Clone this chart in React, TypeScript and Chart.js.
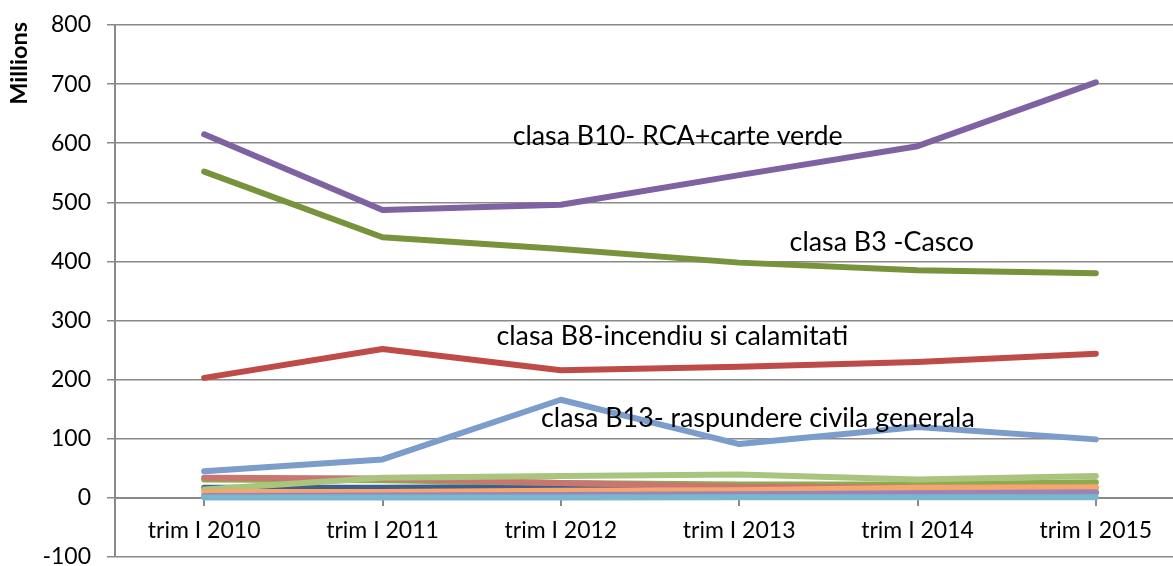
import React, { useEffect, useRef } from "react";
import { Chart, registerables } from "chart.js";

Chart.register(...registerables);

const categories = ["trim I 2010", "trim I 2011", "trim I 2012", "trim I 2013", "trim I 2014", "trim I 2015"];

const b10 = [615, 487, 496, 546, 595, 703];
const b3 = [552, 441, 421, 398, 385, 380];
const b8 = [203, 252, 216, 222, 230, 244];
const b13 = [45, 65, 166, 91, 120, 99];
const aquaSeries = [0.5, 0.5, 0.5, 1, 1, 1];
const lilacSeries = [3, 4, 5, 6, 8, 9.5];
const orangeSeries = [10, 10, 12, 13, 17, 18];
const lightGreenSeries = [14, 34, 37, 39.5, 31, 37];
const pinkSeries = [34, 33, 25, 19, 17, 17];
const oliveSeries = [31, 30, 25, 22.5, 22.5, 26.5];
const navySeries = [17, 17, 19, 13, 10, 9];

const yMin = -100;
const yMax = 800;
const yStep = 100;
const yTitle = "Millions";

const labelTexts = [
  "clasa B10- RCA+carte verde",
  "clasa B3 -Casco",
  "clasa B8-incendiu si calamitati",
  "clasa B13- raspundere civila generala",
];
const labelIndex = [2.655, 3.8, 2.625, 3.105];
const labelValue = [612, 432, 273, 134];

const FONT = "Lato, 'Liberation Sans', sans-serif";
const GRID = "#898989";

export default function App() {
  const ref = useRef<HTMLCanvasElement | null>(null);

  useEffect(() => {
    if (!ref.current) return;
    const mk = (label: string, data: number[], color: string) => ({
      label,
      data,
      borderColor: color,
      backgroundColor: color,
      borderWidth: 6,
      borderCapStyle: "round" as const,
      borderJoinStyle: "round" as const,
      pointRadius: 0,
      pointHoverRadius: 0,
      tension: 0,
      fill: false,
    });

    const annotationPlugin = {
      id: "annotations",
      afterDatasetsDraw(chart: any) {
        const { ctx, scales, chartArea } = chart;
        ctx.save();
        ctx.fillStyle = "#000";
        ctx.font = `26.8px ${FONT}`;
        ctx.textAlign = "center";
        ctx.textBaseline = "middle";
        labelTexts.forEach((t, i) => {
          const x = scales.x.getPixelForValue(labelIndex[i]);
          const y = scales.y.getPixelForValue(labelValue[i]);
          ctx.fillText(t, x, y);
        });
        ctx.restore();

        // rotated y-axis title, aligned with the top of the value axis
        ctx.save();
        ctx.fillStyle = "#000";
        ctx.font = `bold 23.5px ${FONT}`;
        ctx.translate(19, chartArea.top - 3);
        ctx.rotate(-Math.PI / 2);
        ctx.textAlign = "right";
        ctx.textBaseline = "middle";
        ctx.fillText(yTitle, 0, 0);
        ctx.restore();
      },
    };

    const chart = new Chart(ref.current, {
      type: "line",
      data: {
        labels: categories,
        datasets: [
          mk("clasa B10", b10, "#7E62A1"),
          mk("clasa B3", b3, "#77933C"),
          mk("clasa B8", b8, "#BE4B48"),
          mk("clasa B13", b13, "#7C9CCB"),
          mk("s5", aquaSeries, "#79B7CE"),
          mk("s6", lilacSeries, "#9A85B6"),
          mk("s7", orangeSeries, "#F6A66C"),
          mk("s8", lightGreenSeries, "#A9C47D"),
          mk("s9", pinkSeries, "#CB7573"),
          mk("s10", oliveSeries, "#8EAA4F"),
          mk("s11", navySeries, "#3E5F8E"),
        ],
      },
      options: {
        responsive: false,
        animation: false,
        events: [],
        layout: { padding: { top: 25, right: 3, bottom: 9, left: 0 } },
        plugins: {
          legend: { display: false },
          tooltip: { enabled: false },
        },
        scales: {
          x: {
            type: "category",
            position: { y: 0 } as any,
            offset: true,
            grid: {
              drawOnChartArea: false,
              drawTicks: true,
              tickLength: 7,
              color: GRID,
              lineWidth: 2,
            },
            border: { display: true, color: GRID, width: 2 },
            ticks: {
              color: "#000",
              font: { family: FONT, size: 23 },
              padding: 12,
              maxRotation: 0,
              autoSkip: false,
            },
            afterFit: (s: any) => {
              s.height = 0;
            },
          },
          y: {
            min: yMin,
            max: yMax,
            ticks: {
              stepSize: yStep,
              color: "#000",
              font: { family: FONT, size: 23 },
              padding: 16,
            },
            grid: { color: GRID, lineWidth: 1.5, tickLength: 8 },
            border: { display: true, color: GRID, width: 2 },
            afterFit: (s: any) => {
              s.width = 115;
              s.paddingTop = 0;
              s.paddingBottom = 0;
            },
          },
        },
      },
      plugins: [annotationPlugin],
    });
    return () => chart.destroy();
  }, []);

  return (
    <div
      style={{
        position: "fixed",
        left: 0,
        top: 0,
        width: 1173,
        height: 566,
        overflow: "hidden",
        background: "#fff",
      }}
    >
      <canvas ref={ref} width={1188} height={566} style={{ display: "block" }} />
    </div>
  );
}
